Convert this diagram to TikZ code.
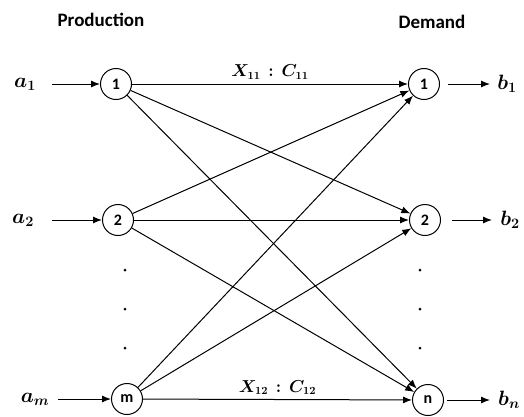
\documentclass[tikz,border=0pt]{standalone}
\usepackage{amsmath,bm}
\usepackage{fontspec}
\newfontfamily\lab{Carlito}
\usetikzlibrary{arrows.meta}
\begin{document}
\begin{tikzpicture}[x=1pt,y=-1pt,
  nd/.style={draw,circle,line width=1pt,minimum size=31pt,inner sep=0pt,font=\lab\fontsize{16}{16}\selectfont\bfseries},
  edge/.style={line width=1pt,-{Latex[length=9pt,width=7pt]}},
  hdr/.style={font=\lab\fontsize{19}{19}\selectfont\bfseries},
  mlab/.style={font=\fontsize{20}{20}\selectfont},
  elab/.style={font=\fontsize{16}{16}\selectfont},
  dotc/.style={fill,circle,inner sep=0pt,minimum size=3pt}]
\useasboundingbox (0,0) rectangle (524,416);
\node[hdr] (hp) at (101,20) {Production};
\node[hdr] (hd) at (432,22) {Demand};
% source nodes
\node[nd] (l1) at (116,84) {1};
\node[nd] (l2) at (118,220) {2};
\node[nd] (lm) at (127,399) {m};
% sink nodes
\node[nd] (r1) at (424,84) {1};
\node[nd] (r2) at (425,220) {2};
\node[nd] (rn) at (428,400) {n};
% labels
\node[mlab] (a1) at (25,84) {$\boldsymbol{a_1}$};
\node[mlab] (a2) at (23,220) {$\boldsymbol{a_2}$};
\node[mlab] (am) at (35,399) {$\boldsymbol{a_m}$};
\node[mlab] (b1) at (507,84) {$\boldsymbol{b_1}$};
\node[mlab] (b2) at (510,220) {$\boldsymbol{b_2}$};
\node[mlab] (bn) at (509,400) {$\boldsymbol{b_n}$};
% dots
\node[dotc] (dl1) at (125,270) {};
\node[dotc] (dl2) at (125,309) {};
\node[dotc] (dl3) at (125,348) {};
\node[dotc] (dr1) at (420,270) {};
\node[dotc] (dr2) at (420,309) {};
\node[dotc] (dr3) at (420,348) {};
% input/output arrows
\coordinate (a1e) at (52,84);
\coordinate (a2e) at (52,220);
\coordinate (ame) at (58,399);
\draw[edge] (a1e) -- (l1);
\draw[edge] (a2e) -- (l2);
\draw[edge] (ame) -- (lm);
\coordinate (b1a) at (448,84);
\coordinate (b2a) at (452,220);
\coordinate (bna) at (447,400);
\coordinate (b1s) at (490,84);
\coordinate (b2s) at (492,220);
\coordinate (bns) at (490,400);
\draw[edge] (b1a) -- (b1s);
\draw[edge] (b2a) -- (b2s);
\draw[edge] (bna) -- (bns);
% flows
\draw[edge] (l1) -- node[above,elab,yshift=1pt] {$\boldsymbol{X_{11}\,:\,C_{11}}$} (r1);
\draw[edge] (l1) -- (r2);
\draw[edge] (l1) -- (rn);
\draw[edge] (l2) -- (r1);
\draw[edge] (l2) -- (r2);
\draw[edge] (l2) -- (rn);
\draw[edge] (lm) -- (r1);
\draw[edge] (lm) -- (r2);
\draw[edge] (lm) -- node[above,elab,yshift=1pt] {$\boldsymbol{X_{12}\,:\,C_{12}}$} (rn);
\end{tikzpicture}
\end{document}
